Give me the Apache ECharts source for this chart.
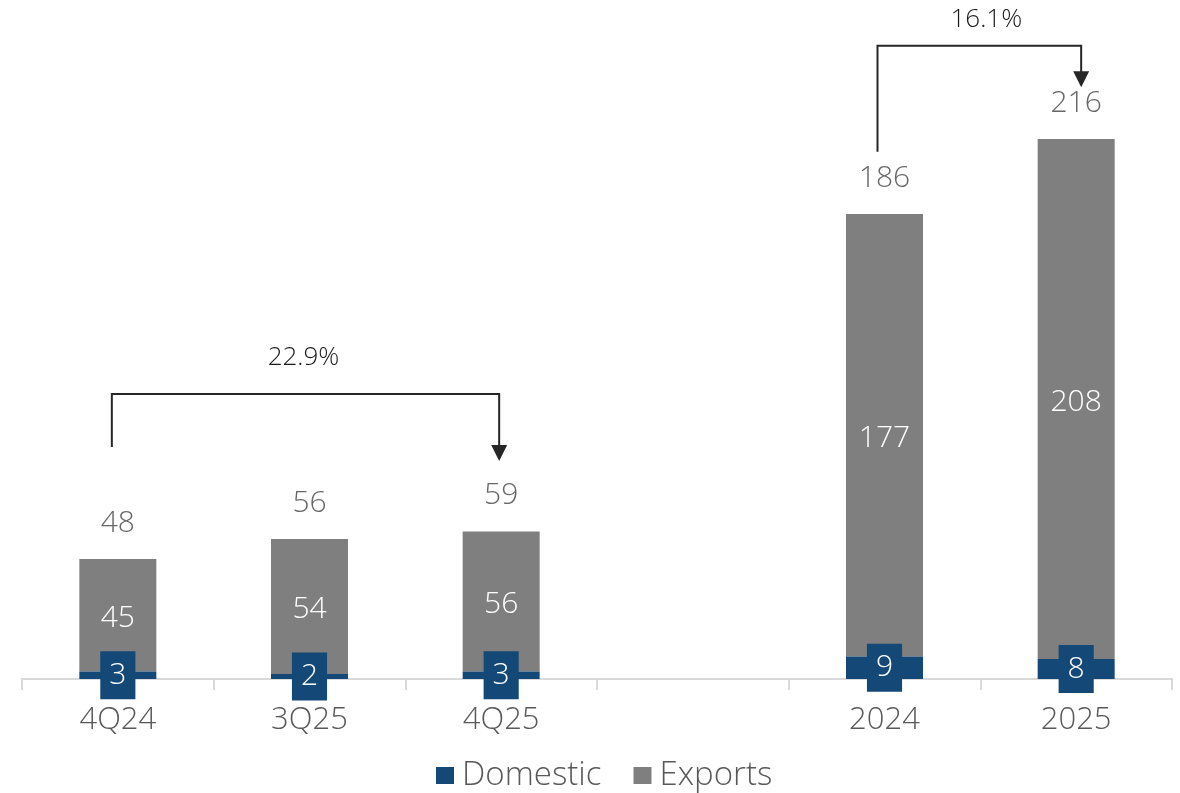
<!DOCTYPE html>
<html>
<head>
<meta charset="utf-8">
<script src="https://cdn.jsdelivr.net/npm/echarts@6/dist/echarts.min.js"></script>
<style>
  html, body { margin: 0; padding: 0; background: #ffffff; }
  #chart { width: 1180px; height: 793px; }
</style>
</head>
<body>
<div id="chart"></div>
<script>
// Sales volumes by quarter and by full year (empty slot separates the two groups)
const categories = ['4Q24', '3Q25', '4Q25', '', '2024', '2025'];
const domestic = [3, 2, 3, null, 9, 8];
const exportsVals = [45, 54, 56, null, 177, 208];

// Growth callouts: label text and the pair of categories they join
const growthLabels = ['22.9%', '16.1%'];
const growthPairs = [[0, 2], [4, 5]];

const totals = domestic.map((d, i) => (d == null ? null : d + exportsVals[i]));

const FONT = '"Open Sans", "DejaVu Sans", sans-serif';
const WEIGHT = 300;
const BLUE = '#144977';
const GREY = '#7f7f7f';

const chart = echarts.init(document.getElementById('chart'), null, { renderer: 'canvas' });

chart.setOption({
  animation: false,
  backgroundColor: '#ffffff',
  grid: { left: 22, right: 8, top: 54, bottom: 114, containLabel: false },
  legend: {
    data: ['Domestic', 'Exports'],
    left: 436,
    top: 759,
    padding: 0,
    itemWidth: 18,
    itemHeight: 17,
    itemGap: 32,
    icon: 'rect',
    textStyle: { fontFamily: FONT, fontWeight: WEIGHT, fontSize: 33, color: '#595959', padding: [0, 0, 0, 3] }
  },
  xAxis: {
    type: 'category',
    data: categories,
    axisLine: { show: true, lineStyle: { color: '#d9d9d9', width: 2 } },
    axisTick: { show: true, interval: 0, length: 11, lineStyle: { color: '#d9d9d9', width: 2 } },
    axisLabel: { interval: 0, margin: 26, fontFamily: FONT, fontWeight: WEIGHT, fontSize: 31, color: '#595959' },
    splitLine: { show: false }
  },
  yAxis: {
    type: 'value',
    min: 0,
    max: 250,
    show: false,
    splitLine: { show: false }
  },
  series: [
    {
      name: 'Domestic',
      type: 'bar',
      stack: 'volume',
      barWidth: 77,
      data: domestic,
      itemStyle: { color: BLUE },
      label: {
        show: true,
        position: 'inside',
        formatter: '{c}',
        fontFamily: FONT,
        fontWeight: WEIGHT,
        fontSize: 30,
        color: '#ffffff',
        backgroundColor: BLUE,
        padding: [8, 9],
        lineHeight: 32
      },
      z: 3
    },
    {
      name: 'Exports',
      type: 'bar',
      stack: 'volume',
      barWidth: 77,
      data: exportsVals,
      itemStyle: { color: GREY },
      label: {
        show: true,
        position: 'inside',
        offset: [0, 3],
        formatter: '{c}',
        fontFamily: FONT,
        fontWeight: WEIGHT,
        fontSize: 30,
        color: '#ffffff'
      },
      z: 2
    },
    {
      name: 'Total',
      type: 'scatter',
      data: totals,
      symbolSize: 0,
      silent: true,
      label: {
        show: true,
        position: 'top',
        distance: 21,
        formatter: '{c}',
        fontFamily: FONT,
        fontWeight: WEIGHT,
        fontSize: 30,
        lineHeight: 30,
        color: '#404040'
      },
      z: 4
    }
  ]
});

// Bracket arrows between compared bars; levels are in axis units, offsets in px
const bracketLayout = [
  { startY: 92.8, topY: 114, tipY: 87.2, dxL: -6, dxR: -2, textY: 128.4, textDx: -2 },
  { startY: 210.9, topY: 253.3, tipY: 236.7, dxL: -7, dxR: 5, textY: 263.6, textDx: 7 }
];

const graphics = [];
growthPairs.forEach((pair, k) => {
  const lay = bracketLayout[k];
  const pStart = chart.convertToPixel({ gridIndex: 0 }, [pair[0], lay.startY]);
  const pTop = chart.convertToPixel({ gridIndex: 0 }, [pair[0], lay.topY]);
  const pTip = chart.convertToPixel({ gridIndex: 0 }, [pair[1], lay.tipY]);
  const pText = chart.convertToPixel({ gridIndex: 0 }, [pair[0], lay.textY]);
  const xL = pStart[0] + lay.dxL;
  const xR = pTip[0] + lay.dxR;
  const head = 16;
  graphics.push({
    type: 'polyline',
    shape: { points: [[xL, pStart[1]], [xL, pTop[1]], [xR, pTop[1]], [xR, pTip[1] - head + 1]] },
    style: { stroke: '#262626', lineWidth: 2, fill: null },
    z: 10
  });
  graphics.push({
    type: 'polygon',
    shape: { points: [[xR - 8, pTip[1] - head], [xR + 8, pTip[1] - head], [xR, pTip[1]]] },
    style: { fill: '#262626' },
    z: 10
  });
  graphics.push({
    type: 'text',
    x: (xL + xR) / 2 + lay.textDx,
    y: pText[1],
    style: {
      text: growthLabels[k],
      font: WEIGHT + ' 26px ' + FONT,
      fill: '#1a1a1a',
      align: 'center',
      verticalAlign: 'middle'
    },
    z: 10
  });
});

chart.setOption({ graphic: graphics });
</script>
</body>
</html>
